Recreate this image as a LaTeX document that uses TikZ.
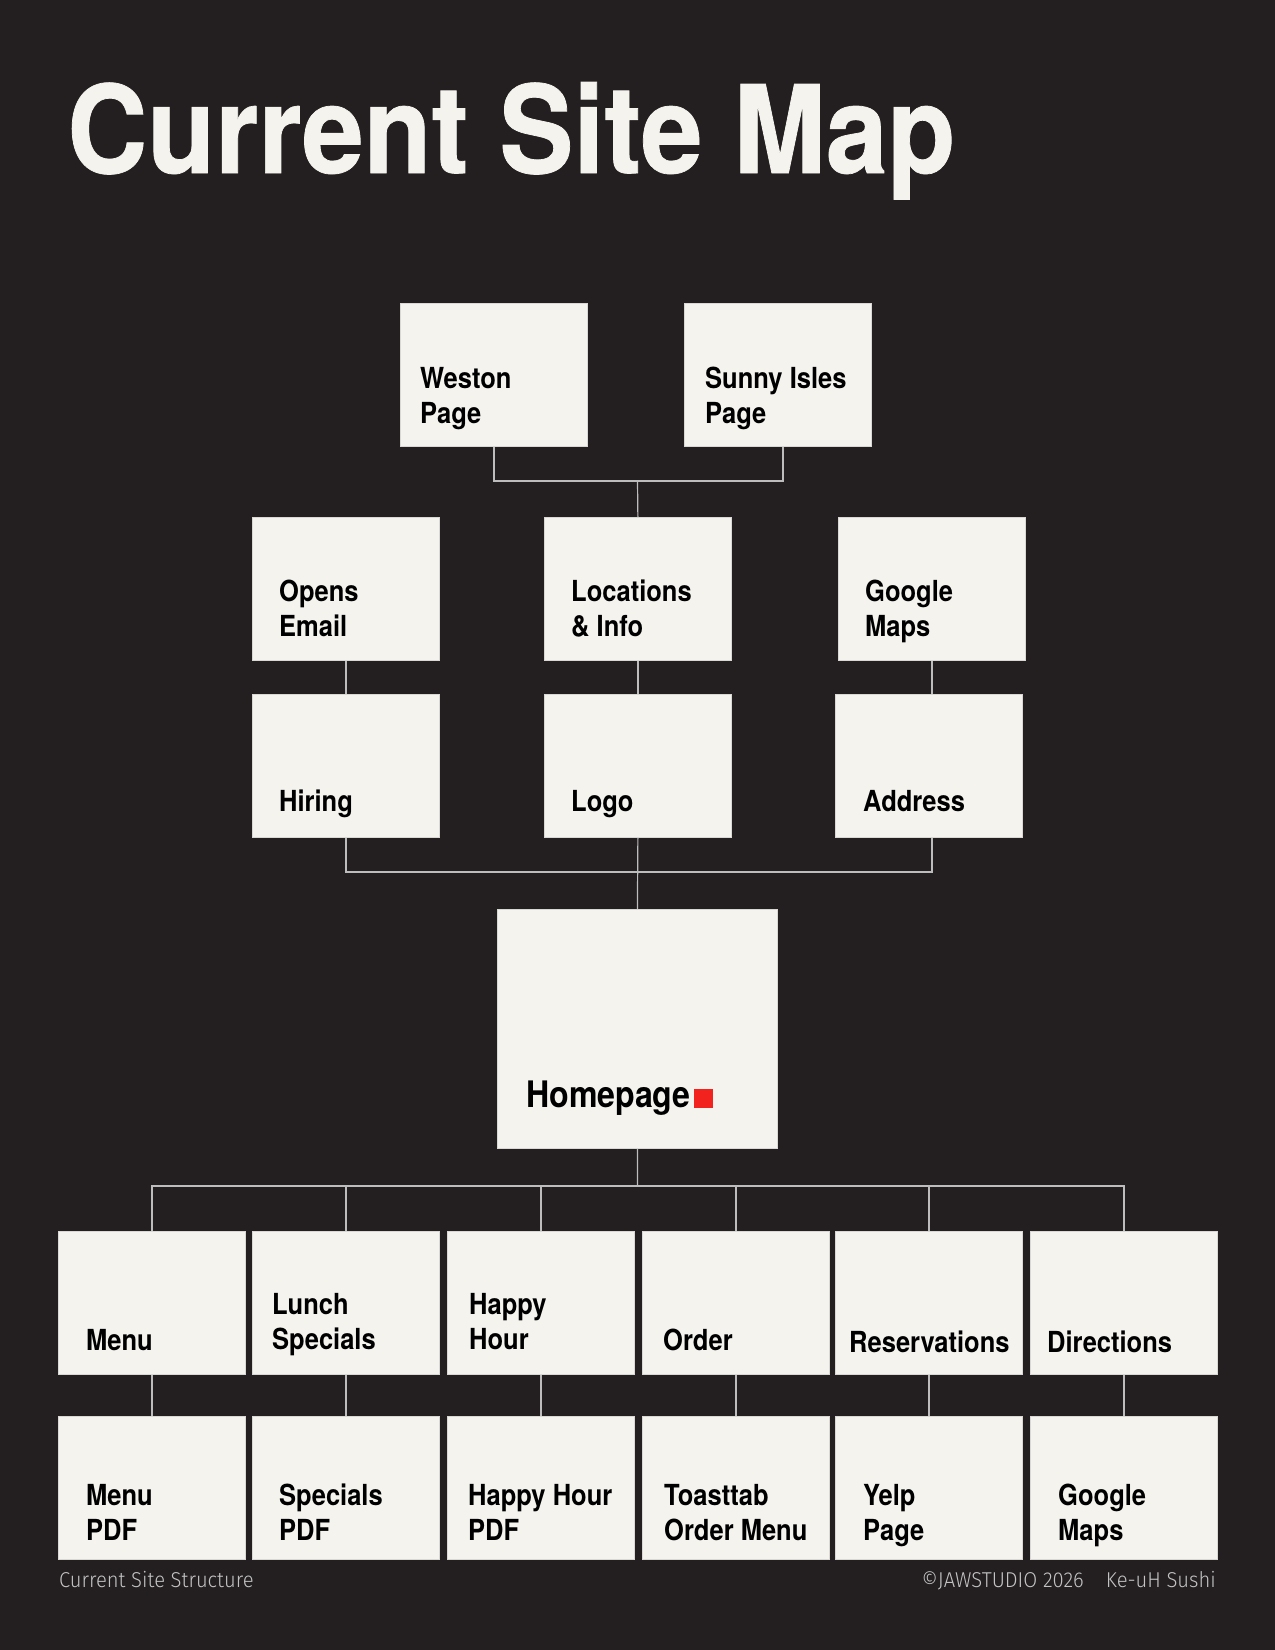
\documentclass[tikz,border=0pt]{standalone}
\usepackage{fontspec}
\setmainfont{TeX Gyre Heros}[FakeStretch=0.88]
\newfontfamily\titlefont{TeX Gyre Heros}[FakeStretch=0.91,FakeBold=0.6]
\newfontfamily\footfont{Fira Sans Light}[FakeStretch=0.94]
\usetikzlibrary{calc}
\definecolor{bg}{HTML}{231F20}
\definecolor{boxfill}{HTML}{F4F3EE}
\definecolor{linec}{HTML}{BDBDBD}
\definecolor{accent}{HTML}{F2231F}
\definecolor{footc}{HTML}{C4C4C4}
\newcommand\tlines[2]{\vtop{\hbox{#1}\hbox{#2}}}
\newcommand\blab[4]{\node[lab] (#1-t) at ($(#1.south west)+(#2,-#3)$) {#4};}
\begin{document}
\begin{tikzpicture}[x=1pt,y=-1pt,
  pagebox/.style={rectangle, fill=boxfill, draw=linec!50!boxfill, line width=0.8pt, inner sep=0pt, minimum width=187pt, minimum height=143pt, anchor=north west},
  homebox/.style={pagebox, minimum width=280pt, minimum height=239pt},
  lab/.style={inner sep=0pt, anchor=base west, text=black, font=\bfseries\fontsize{29}{35}\selectfont},
  conn/.style={draw=linec, line width=1.2pt},
  foottext/.style={inner sep=0pt, text=footc, font=\footfont\fontsize{21.5}{24}\selectfont}
  ]
\fill[bg] (0,0) rectangle (1275,1650);
\useasboundingbox (0,0) rectangle (1275,1650);

% title
\node[inner sep=0pt, anchor=base west, text=boxfill, font=\titlefont\bfseries\fontsize{122}{130}\selectfont] (title) at (67,173) {Current Site Map};

% boxes
\node[pagebox] (weston) at (400,303) {};
\node[pagebox] (sunny) at (684,303) {};
\node[pagebox] (opens) at (252,517) {};
\node[pagebox] (loc) at (544,517) {};
\node[pagebox] (gm) at (838,517) {};
\node[pagebox] (hiring) at (252,694) {};
\node[pagebox] (logo) at (544,694) {};
\node[pagebox] (addr) at (835,694) {};
\node[homebox] (home) at (497,909) {};

\node[pagebox] (r1a) at (58,1231) {};
\node[pagebox] (r1b) at (252,1231) {};
\node[pagebox] (r1c) at (447,1231) {};
\node[pagebox] (r1d) at (642,1231) {};
\node[pagebox] (r1e) at (835,1231) {};
\node[pagebox] (r1f) at (1030,1231) {};
\node[pagebox] (r2a) at (58,1416) {};
\node[pagebox] (r2b) at (252,1416) {};
\node[pagebox] (r2c) at (447,1416) {};
\node[pagebox] (r2d) at (642,1416) {};
\node[pagebox] (r2e) at (835,1416) {};
\node[pagebox] (r2f) at (1030,1416) {};

% connectors
\coordinate (jt) at (637.5,481);
\coordinate (jm) at (637.5,872);
\coordinate (jb) at (637.5,1186);
\coordinate (sunnyc) at ($(sunny.south)+(5,0)$);
\coordinate (addrc) at (gm.south |- addr.south);
\draw[conn] (weston.south) |- (jt);
\draw[conn] (sunnyc) |- (jt);
\draw[conn] (jt) -- (loc.north);
\draw[conn] (opens.south) -- (hiring.north);
\draw[conn] (loc.south) -- (logo.north);
\draw[conn] (gm.south) -- (gm.south |- addr.north);
\draw[conn] (hiring.south) |- (jm);
\draw[conn] (addrc) |- (jm);
\draw[conn] (logo.south) -- (home.north);
\draw[conn] (home.south) -- (jb);
\foreach \b in {r1a,r1b,r1c,r1d,r1e,r1f} {\draw[conn] (\b.north) |- (jb);}
\draw[conn] (r1a.south) -- (r2a.north);
\draw[conn] (r1b.south) -- (r2b.north);
\draw[conn] (r1c.south) -- (r2c.north);
\draw[conn] (r1d.south) -- (r2d.north);
\draw[conn] (r1e.south) -- (r2e.north);
\draw[conn] (r1f.south) -- (r2f.north);

% labels
\blab{weston}{20}{58}{\tlines{Weston}{Page}}
\blab{sunny}{21}{58}{\tlines{Sunny Isles}{Page}}
\blab{opens}{27}{59}{\tlines{Opens}{Email}}
\blab{loc}{27}{59}{\tlines{Locations}{\& Info}}
\blab{gm}{27}{59}{\tlines{Google}{Maps}}
\blab{hiring}{27}{26}{Hiring}
\blab{logo}{27}{26}{Logo}
\blab{addr}{28}{26}{Address}
\node[lab, font=\bfseries\fontsize{36.5}{40}\selectfont] (home-t) at ($(home.south west)+(29,-41)$) {Homepage};
\node[rectangle, fill=accent, inner sep=0pt, minimum size=19pt, anchor=south west] (dot) at ($(home-t.base east)+(3,0)$) {};

\blab{r1a}{28}{24}{Menu}
\blab{r1b}{20}{60}{\tlines{Lunch}{Specials}}
\blab{r1c}{22}{60}{\tlines{Happy}{Hour}}
\blab{r1d}{21}{24}{Order}
\blab{r1e}{14}{22}{Reservations}
\blab{r1f}{17}{22}{Directions}
\blab{r2a}{28}{54}{\tlines{Menu}{PDF}}
\blab{r2b}{27}{54}{\tlines{Specials}{PDF}}
\blab{r2c}{21}{54}{\tlines{Happy Hour}{PDF}}
\blab{r2d}{22}{54}{\tlines{Toasttab}{Order Menu}}
\blab{r2e}{28}{54}{\tlines{Yelp}{Page}}
\blab{r2f}{28}{54}{\tlines{Google}{Maps}}

% footer
\node[foottext, anchor=base west] (f1) at (59,1587) {Current Site Structure};
\node[foottext, anchor=base east] (f2) at (1084,1587) {©JAWSTUDIO 2026};
\node[foottext, anchor=base east] (f3) at (1216,1587) {Ke-uH Sushi};
\end{tikzpicture}
\end{document}
